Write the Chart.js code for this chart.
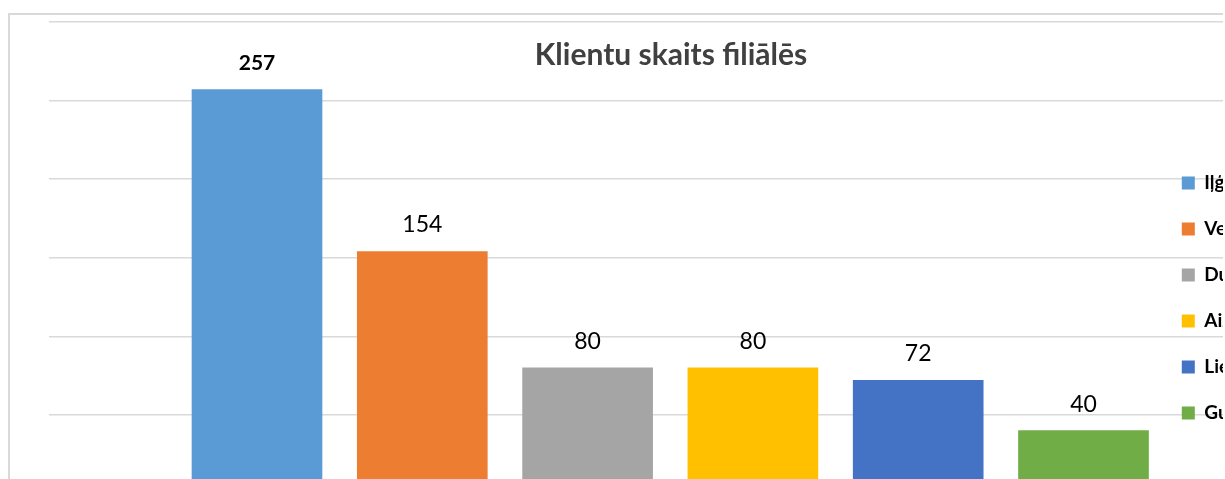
<!DOCTYPE html>
<html>
<head>
<meta charset="utf-8">
<script src="https://cdn.jsdelivr.net/npm/chart.js@4.4.1/dist/chart.umd.min.js"></script>
<style>
html,body{margin:0;padding:0;background:#fff;overflow:hidden;width:1225px;height:479px;}
#frame{position:absolute;left:8px;top:13px;width:1213px;height:600px;border-left:2px solid #d9d9d9;border-top:2px solid #d9d9d9;overflow:hidden;background:#fff;}
canvas{display:block;}
</style>
</head>
<body>
<div id="frame"><canvas id="c" width="1283" height="600"></canvas></div>
<script>
// ---- data ----
const chartTitle = 'Klientu skaits filiālēs';
const categories = ['Iļģuciems', 'Ventspils', 'Dundaga', 'Aizkraukle', 'Liepāja', 'Gulbene'];
const values = [257, 154, 80, 80, 72, 40];
const colors = ['#5B9BD5', '#ED7D31', '#A5A5A5', '#FFC000', '#4472C4', '#70AD47'];
const yMin = 0;
const yMax = 300;
const yStep = 50;

// ---- style ----
const boldLabelIndex = 0;

const valueLabels = {
  id: 'valueLabels',
  afterDatasetsDraw(chart) {
    const ctx = chart.ctx;
    const meta = chart.getDatasetMeta(0);
    ctx.save();
    ctx.textAlign = 'center';
    ctx.textBaseline = 'middle';
    ctx.fillStyle = '#000000';
    meta.data.forEach((bar, i) => {
      ctx.font = (i === boldLabelIndex ? 'bold 21px' : '23px') + ' Lato';
      ctx.fillText(String(values[i]), bar.x, bar.y - 26.5);
    });
    ctx.restore();
  }
};

const legendPlacement = {
  id: 'legendPlacement',
  beforeLayout(chart) {
    const lg = chart.legend;
    if (lg && !lg._raised) {
      lg._layers = () => [{ z: 1, draw: (area) => lg.draw(area) }];
      lg._raised = true;
    }
  },
  afterLayout(chart) {
    const lg = chart.legend;
    if (!lg) return;
    lg.left = 1144.8;
    lg.top = 131.5;
    lg.right = chart.width;
    lg.bottom = chart.chartArea.bottom;
    lg.width = lg.right - lg.left;
    lg.height = lg.bottom - lg.top;
  }
};

new Chart(document.getElementById('c'), {
  type: 'bar',
  data: {
    datasets: [{
      label: chartTitle,
      data: categories.map((c, i) => ({ x: i, y: values[i] })),
      backgroundColor: colors,
      borderWidth: 0,
      barThickness: 130
    }]
  },
  options: {
    responsive: false,
    animation: false,
    devicePixelRatio: 1,
    layout: { padding: { left: 39, right: 0, top: 0, bottom: 121.5 } },
    scales: {
      x: { type: 'linear', display: false, min: -1.2583, max: 6.2674, offset: false },
      y: {
        min: yMin, max: yMax,
        ticks: { display: false, stepSize: yStep },
        grid: { color: '#d9d9d9', lineWidth: 1.5, drawTicks: false },
        border: { display: false }
      }
    },
    plugins: {
      title: {
        display: true,
        text: chartTitle,
        color: '#404040',
        font: { family: 'Lato', size: 30, weight: 'bold', lineHeight: 1.2 },
        padding: { top: 22, bottom: -51 }
      },
      legend: {
        position: 'chartArea',
        align: 'start',
        labels: {
          font: { family: 'Lato', size: 19, weight: 'bold' },
          color: '#404040',
          boxWidth: 13,
          boxHeight: 13,
          padding: 27,
          generateLabels: () => categories.map((c, i) => ({
            text: c, fillStyle: colors[i], strokeStyle: colors[i], lineWidth: 0, hidden: false, index: i
          }))
        }
      },
      tooltip: { enabled: false }
    }
  },
  plugins: [valueLabels, legendPlacement]
});
</script>
</body>
</html>
